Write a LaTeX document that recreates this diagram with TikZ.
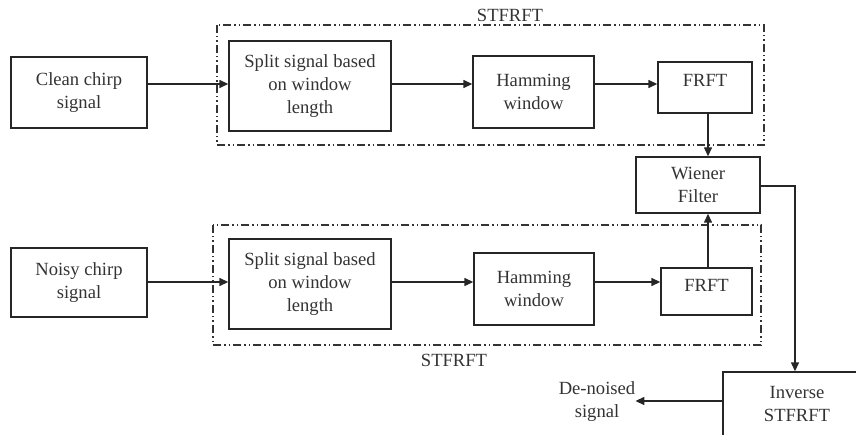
\documentclass[tikz,border=0pt]{standalone}
\usepackage{fontspec}
\setmainfont{Liberation Serif}
\usetikzlibrary{arrows.meta}
\begin{document}
\begin{tikzpicture}[x=1pt,y=-1pt,
  blk/.style={draw=black!85,line width=1.4pt,align=center,inner sep=0pt,
    font=\fontsize{18.6}{23}\selectfont,text=black!80},
  lbl/.style={align=center,inner sep=0pt,font=\fontsize{18.6}{23}\selectfont,text=black!80},
  grp/.style={draw=black!80,line width=1.2pt,
    dash pattern=on 8pt off 3pt on 1.5pt off 3pt on 1.5pt off 3pt},
  arr/.style={draw=black!85,line width=1.4pt,-{Triangle[length=9pt,width=8pt]}},
  ln/.style={draw=black!85,line width=1.4pt}]
\useasboundingbox (0,0) rectangle (856,435);
\clip (0,0) rectangle (856,435);
% groups
\draw[grp] (217,25) rectangle (764,145);
\draw[grp] (213,225) rectangle (761,345);
\node[lbl] (lt) at (510,15) {STFRFT};
\node[lbl] (lb) at (454,360) {STFRFT};
% top row
\node[blk,minimum width=136pt,minimum height=71pt] (clean) at (79,92.5) {Clean chirp\\signal};
\node[blk,minimum width=162pt,minimum height=90pt] (split1) at (310,86) {Split signal based\\on window\\length};
\node[blk,minimum width=121pt,minimum height=72pt] (ham1) at (533.5,92) {Hamming\\window};
\node[blk,minimum width=94pt,minimum height=51pt,text depth=15pt] (frft1) at (705,87.5) {FRFT};
% bottom row
\node[blk,minimum width=136pt,minimum height=69pt] (noisy) at (79,282.5) {Noisy chirp\\signal};
\node[blk,minimum width=162pt,minimum height=90pt] (split2) at (310,284) {Split signal based\\on window\\length};
\node[blk,minimum width=120pt,minimum height=72pt] (ham2) at (534,289) {Hamming\\window};
\node[blk,minimum width=91pt,minimum height=47pt,text depth=13pt] (frft2) at (706.5,291.5) {FRFT};
% right column
\node[blk,minimum width=124pt,minimum height=56pt] (wiener) at (698,185) {Wiener\\Filter};
\node[blk,minimum width=148pt,minimum height=64pt] (inv) at (797,404) {Inverse\\STFRFT};
\node[lbl] (out) at (597,401.5) {De-noised\\signal};
% connectors
\draw[arr] (clean.east |- 0,84) -- (split1.west |- 0,84);
\draw[arr] (split1.east |- 0,84) -- (ham1.west |- 0,84);
\draw[arr] (ham1.east |- 0,84) -- (frft1.west |- 0,84);
\draw[arr] (noisy.east |- 0,282) -- (split2.west |- 0,282);
\draw[arr] (split2.east |- 0,282) -- (ham2.west |- 0,282);
\draw[arr] (ham2.east |- 0,282) -- (frft2.west |- 0,282);
\draw[arr] (frft1.south -| 708,0) -- (wiener.north -| 708,0);
\draw[arr] (frft2.north -| 708,0) -- (wiener.south -| 708,0);
\draw[arr] (wiener.east |- 0,186) -| (inv.north -| 795,0);
\draw[arr] (inv.west |- 0,401) -- (out.east |- 0,401);
\end{tikzpicture}
\end{document}
